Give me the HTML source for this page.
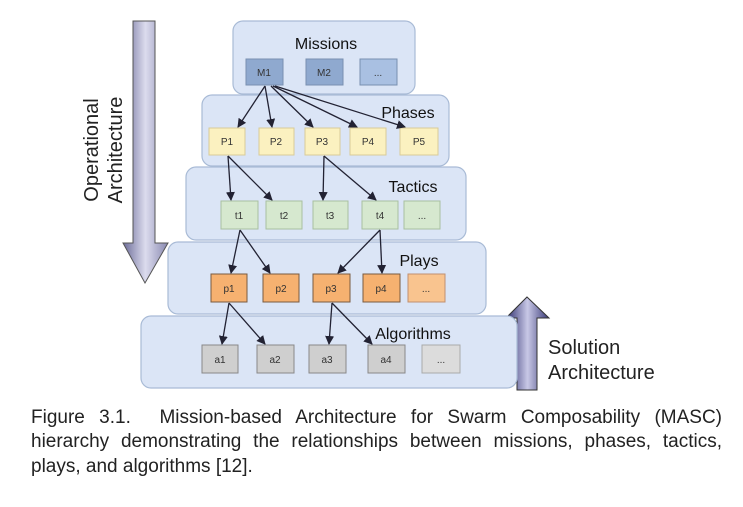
<!DOCTYPE html>
<html><head><meta charset="utf-8"><style>
body{margin:0;background:#fff;width:743px;height:507px;overflow:hidden}
svg text{font-family:"Liberation Sans",sans-serif}
.cap{position:absolute;left:31px;width:691px;font-family:"Liberation Sans",sans-serif;font-size:19px;color:#222;text-align:justify;text-align-last:justify;white-space:nowrap;line-height:22px}
</style></head><body>
<svg width="743" height="507" style="position:absolute;left:0;top:0">
<defs>
<linearGradient id="dg" x1="0" y1="0" x2="1" y2="0"><stop offset="0" stop-color="#6b6b98"/><stop offset="0.5" stop-color="#dcdcee"/><stop offset="1" stop-color="#8888b0"/></linearGradient>
<linearGradient id="ug" x1="0" y1="0" x2="1" y2="0"><stop offset="0" stop-color="#2e2e6e"/><stop offset="0.5" stop-color="#c8c8e6"/><stop offset="1" stop-color="#3a3a78"/></linearGradient>
<marker id="ah" markerWidth="9" markerHeight="9" refX="8" refY="4.5" orient="auto" markerUnits="userSpaceOnUse"><path d="M0,0 L9,4.5 L0,9 z" fill="#223"/></marker>
</defs>
<path d="M133,21 H155 V243 H168 L145,283 L123,243 H133 Z" fill="url(#dg)" stroke="#555" stroke-width="1"/>
<text transform="translate(98,150) rotate(-90)" text-anchor="middle" font-size="20" fill="#222">Operational</text>
<text transform="translate(122,150) rotate(-90)" text-anchor="middle" font-size="20" fill="#222">Architecture</text>
<path d="M527,297 L549,318 H537 V390 H517 V318 H506 Z" fill="url(#ug)" stroke="#333" stroke-width="1"/>
<text x="548" y="354" font-size="20" fill="#222">Solution</text>
<text x="548" y="379" font-size="20" fill="#222">Architecture</text>
<g fill="#dbe5f6" stroke="#a9bbd6" stroke-width="1.2">
<rect x="141" y="316" width="376" height="72" rx="10"/>
<rect x="168" y="242" width="318" height="72" rx="10"/>
<rect x="186" y="167" width="280" height="73" rx="10"/>
<rect x="202" y="95" width="247" height="71" rx="10"/>
<rect x="233" y="21" width="182" height="73" rx="10"/>
</g>
<g font-size="16" fill="#111" text-anchor="middle">
<text x="326" y="49">Missions</text>
<text x="408" y="118">Phases</text>
<text x="413" y="192">Tactics</text>
<text x="419" y="266">Plays</text>
<text x="413" y="339">Algorithms</text>
</g>
<g stroke="#7890b0" stroke-width="1" fill="#8fa9cf">
<rect x="246" y="59" width="37" height="26"/><rect x="306" y="59" width="37" height="26"/><rect x="360" y="59" width="37" height="26" fill="#a9c0e2"/>
</g>
<g stroke="#d8cc98" fill="#fbf1c0">
<rect x="209" y="128" width="36" height="27"/><rect x="259" y="128" width="35" height="27"/><rect x="305" y="128" width="35" height="27"/><rect x="350" y="128" width="36" height="27"/><rect x="400" y="128" width="38" height="27"/>
</g>
<g stroke="#a8c0a0" fill="#d6e8cf">
<rect x="221" y="201" width="37" height="28"/><rect x="266" y="201" width="36" height="28"/><rect x="313" y="201" width="35" height="28"/><rect x="362" y="201" width="36" height="28"/><rect x="404" y="201" width="36" height="28"/>
</g>
<g stroke="#7a5a40" fill="#f6b170">
<rect x="211" y="274" width="36" height="28"/><rect x="263" y="274" width="36" height="28"/><rect x="313" y="274" width="37" height="28"/><rect x="363" y="274" width="37" height="28"/><rect x="408" y="274" width="37" height="28" fill="#f9c48f" stroke="#c09070"/>
</g>
<g stroke="#888" fill="#cfcfcf">
<rect x="202" y="345" width="36" height="28"/><rect x="257" y="345" width="37" height="28"/><rect x="309" y="345" width="37" height="28"/><rect x="368" y="345" width="37" height="28"/><rect x="422" y="345" width="38" height="28" fill="#dcdcdc" stroke="#aaa"/>
</g>
<g font-size="10" fill="#333" text-anchor="middle">
<text x="264" y="76">M1</text><text x="324" y="76">M2</text><text x="378" y="76">...</text>
<text x="227" y="145">P1</text><text x="276" y="145">P2</text><text x="322" y="145">P3</text><text x="368" y="145">P4</text><text x="419" y="145">P5</text>
<text x="239" y="219">t1</text><text x="284" y="219">t2</text><text x="330" y="219">t3</text><text x="380" y="219">t4</text><text x="422" y="219">...</text>
<text x="229" y="292">p1</text><text x="281" y="292">p2</text><text x="331" y="292">p3</text><text x="381" y="292">p4</text><text x="426" y="292">...</text>
<text x="220" y="363">a1</text><text x="275" y="363">a2</text><text x="327" y="363">a3</text><text x="386" y="363">a4</text><text x="441" y="363">...</text>
</g>
<g stroke="#223" stroke-width="1.3" marker-end="url(#ah)">
<line x1="265" y1="86" x2="238" y2="127"/>
<line x1="265" y1="86" x2="272" y2="127"/>
<line x1="271" y1="86" x2="313" y2="127"/>
<line x1="273" y1="86" x2="357" y2="127"/>
<line x1="275" y1="86" x2="405" y2="127"/>
<line x1="228" y1="156" x2="231" y2="200"/>
<line x1="228" y1="156" x2="272" y2="200"/>
<line x1="324" y1="156" x2="323" y2="200"/>
<line x1="324" y1="156" x2="376" y2="200"/>
<line x1="240" y1="230" x2="231" y2="273"/>
<line x1="240" y1="230" x2="270" y2="273"/>
<line x1="380" y1="230" x2="338" y2="273"/>
<line x1="380" y1="230" x2="382" y2="273"/>
<line x1="229" y1="303" x2="222" y2="344"/>
<line x1="229" y1="303" x2="265" y2="344"/>
<line x1="332" y1="303" x2="329" y2="344"/>
<line x1="332" y1="303" x2="372" y2="344"/>
</g>
</svg>
<div class="cap" style="top:407px">Figure 3.1.&nbsp; Mission-based Architecture for Swarm Composability (MASC)</div>
<div class="cap" style="top:431px">hierarchy demonstrating the relationships between missions, phases, tactics,</div>
<div class="cap" style="top:456px;text-align:left;text-align-last:left">plays, and algorithms [12].</div>
</body></html>
